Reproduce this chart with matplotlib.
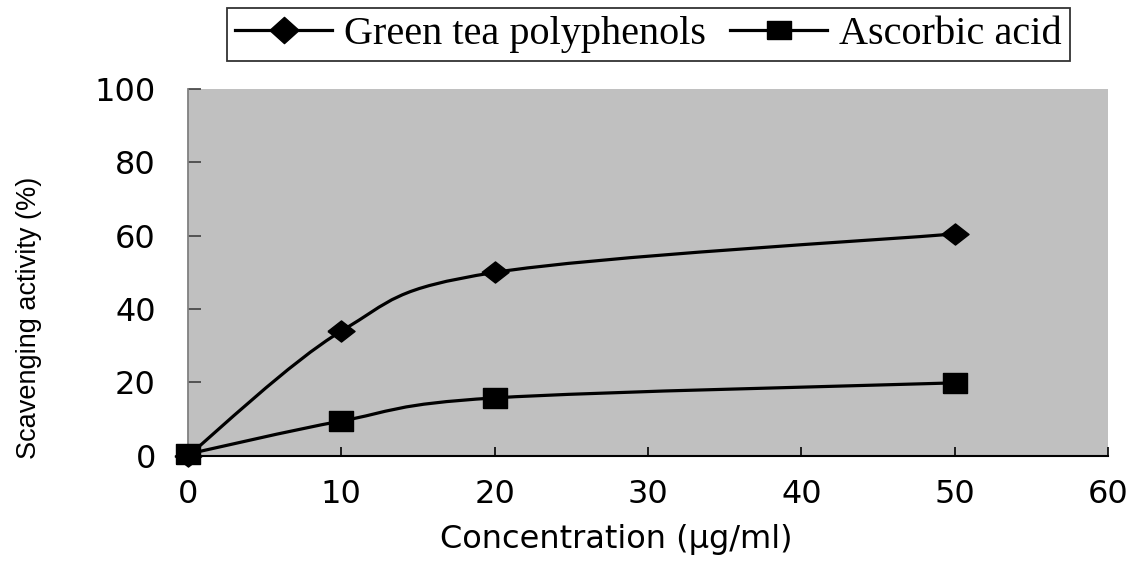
import matplotlib
matplotlib.use("Agg")
import matplotlib.pyplot as plt
from matplotlib.path import Path
from matplotlib.patches import PathPatch
from matplotlib.lines import Line2D
import numpy as np

conc = [0, 10, 20, 50]
green_tea = [0, 34, 50, 60.5]
ascorbic = [0.5, 9.5, 15.8, 19.9]
series_names = ["Green tea polyphenols", "Ascorbic acid"]

xticks = [0, 10, 20, 30, 40, 50, 60]
yticks = [0, 20, 40, 60, 80, 100]

# the original is stretched sideways, so the markers are wider than tall
diamond = [(-1, 0), (0, 0.78), (1, 0), (0, -0.78), (-1, 0)]
square = [(-1, -0.8), (1, -0.8), (1, 0.8), (-1, 0.8), (-1, -0.8)]
leg_diamond = [(-1, 0), (0, 0.9), (1, 0), (0, -0.9), (-1, 0)]
leg_square = [(-1, -0.75), (1, -0.75), (1, 0.75), (-1, 0.75), (-1, -0.75)]


def smooth_path(xs, ys):
    # excel-like smoothed line: cubic bezier segments through the points
    pts = np.column_stack([xs, ys]).astype(float)
    n = len(pts)
    verts = [pts[0]]
    codes = [Path.MOVETO]
    for i in range(n - 1):
        p0 = pts[i - 1] if i > 0 else pts[i]
        p1 = pts[i]
        p2 = pts[i + 1]
        p3 = pts[i + 2] if i + 2 < n else pts[i + 1]
        c1 = p1 + (p2 - p0) / 6.0
        c2 = p2 - (p3 - p1) / 6.0
        verts += [c1, c2, p2]
        codes += [Path.CURVE4] * 3
    return Path(verts, codes)


fig = plt.figure(figsize=(11.39, 5.67), dpi=100)
ax = fig.add_axes([0.165, 0.196, 0.8078, 0.647])
ax.set_facecolor("#c0c0c0")

for ys, mk, ms in [(green_tea, diamond, 19.5), (ascorbic, square, 17.5)]:
    patch = PathPatch(smooth_path(conc, ys), facecolor="none", edgecolor="black",
                      lw=2.3, zorder=3)
    ax.add_patch(patch)
    ax.plot(conc, ys, linestyle="none", marker=mk, markersize=ms, color="black",
            zorder=4, clip_on=False)

ax.set_xlim(0, 60)
ax.set_ylim(0, 100)
ax.set_xticks(xticks)
ax.set_yticks(yticks)

for s in ["top", "right"]:
    ax.spines[s].set_visible(False)
ax.spines["left"].set_color("#808080")
ax.spines["left"].set_linewidth(1.3)
ax.spines["bottom"].set_color("black")
ax.spines["bottom"].set_linewidth(1.5)

ax.tick_params(axis="x", direction="in", length=6.5, width=1.2, pad=17,
               labelsize=23, colors="black")
ax.tick_params(axis="y", direction="in", length=9.5, width=1.2, pad=23,
               labelsize=23, color="#404040", labelcolor="black")
for lab in ax.get_xticklabels() + ax.get_yticklabels():
    lab.set_fontfamily("DejaVu Sans")

ax.set_xlabel("Concentration (\u03bcg/ml)", fontsize=23, family="DejaVu Sans")
ax.xaxis.set_label_coords(0.465, -0.185)
ax.set_ylabel("Scavenging activity (%)", fontsize=19.5, family="Liberation Sans")
ax.yaxis.set_label_coords(-0.159, 0.376)

handles = [
    Line2D([], [], color="black", lw=2.3, marker=leg_diamond, markersize=21),
    Line2D([], [], color="black", lw=2.3, marker=leg_square, markersize=17),
]
leg = fig.legend(handles, series_names, loc="upper center",
                 bbox_to_anchor=(0.5694, 0.986), ncol=2, frameon=True,
                 fancybox=False, prop={"family": "Liberation Serif", "size": 29},
                 handlelength=2.4, handletextpad=0.3, columnspacing=0.6,
                 borderpad=0.2, borderaxespad=0)
leg.get_frame().set_edgecolor("black")
leg.get_frame().set_linewidth(1.3)

fig.savefig("out.png", dpi=100)
